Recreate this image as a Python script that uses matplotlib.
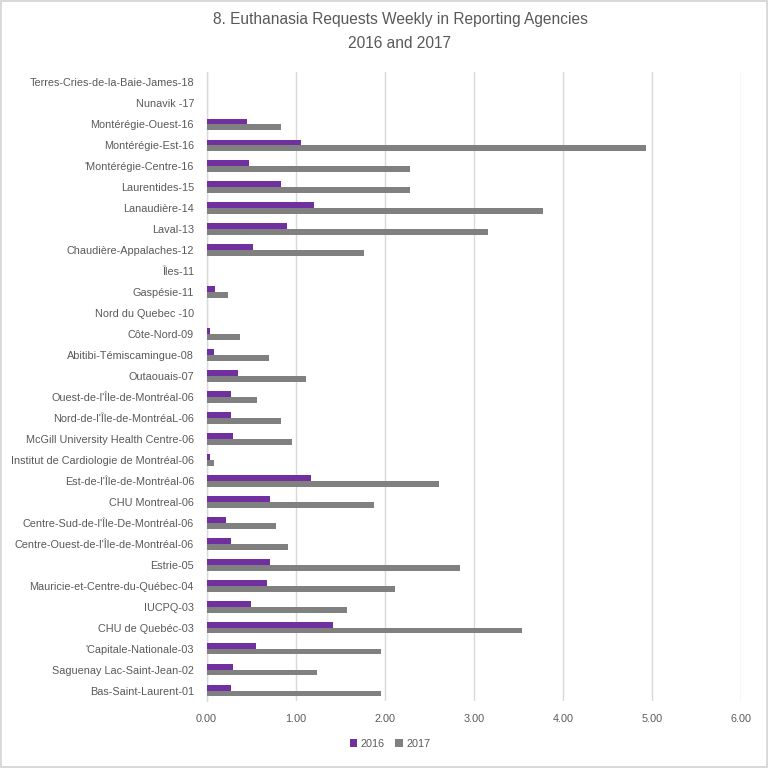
import matplotlib
matplotlib.use("Agg")
import matplotlib.pyplot as plt
import numpy as np

plt.rcParams['font.family'] = ['Liberation Sans', 'DejaVu Sans']

# categories from bottom to top
categories = [
    "Bas-Saint-Laurent-01",
    "Saguenay Lac-Saint-Jean-02",
    "'Capitale-Nationale-03",
    "CHU de Quebéc-03",
    "IUCPQ-03",
    "Mauricie-et-Centre-du-Québec-04",
    "Estrie-05",
    "Centre-Ouest-de-l'Île-de-Montréal-06",
    "Centre-Sud-de-l'Île-De-Montréal-06",
    "CHU Montreal-06",
    "Est-de-l'Île-de-Montréal-06",
    "Institut de Cardiologie de Montréal-06",
    "McGill University Health Centre-06",
    "Nord-de-l'Île-de-MontréaL-06",
    "Ouest-de-l'Île-de-Montréal-06",
    "Outaouais-07",
    "Abitibi-Témiscamingue-08",
    "Côte-Nord-09",
    "Nord du Quebec -10",
    "Gaspésie-11",
    "Îles-11",
    "Chaudière-Appalaches-12",
    "Laval-13",
    "Lanaudière-14",
    "Laurentides-15",
    "'Montérégie-Centre-16",
    "Montérégie-Est-16",
    "Montérégie-Ouest-16",
    "Nunavik -17",
    "Terres-Cries-de-la-Baie-James-18",
]

values_2016 = [0.27, 0.30, 0.56, 1.42, 0.50, 0.68, 0.71, 0.27, 0.22, 0.71,
               1.17, 0.04, 0.30, 0.27, 0.27, 0.35, 0.08, 0.04, 0.0, 0.10,
               0.0, 0.52, 0.90, 1.21, 0.84, 0.48, 1.06, 0.46, 0.0, 0.0]
values_2017 = [1.96, 1.24, 1.96, 3.54, 1.58, 2.12, 2.85, 0.92, 0.78, 1.88,
               2.61, 0.08, 0.96, 0.84, 0.57, 1.12, 0.70, 0.38, 0.0, 0.24,
               0.0, 1.77, 3.16, 3.78, 2.28, 2.28, 4.93, 0.84, 0.0, 0.0]

series_names = ["2016", "2017"]
x_ticks = [0, 1, 2, 3, 4, 5, 6]

c2016 = "#7030A0"
c2017 = "#808080"
text_color = "#595959"

fig = plt.figure(figsize=(7.68, 7.68), dpi=100)
fig.patch.set_facecolor("white")
fig.patch.set_edgecolor("#D9D9D9")
fig.patch.set_linewidth(1.5)

ax = fig.add_axes([206.5 / 768, 67 / 768, (741 - 206.5) / 768, (696 - 67) / 768])

y = np.arange(len(categories))
h = 0.28
ax.barh(y + h / 2, values_2016, height=h, color=c2016, label=series_names[0], zorder=3)
ax.barh(y - h / 2, values_2017, height=h, color=c2017, label=series_names[1], zorder=3)

ax.set_xlim(0, 6)
ax.set_ylim(-0.5, len(categories) - 0.5)
ax.set_xticks(x_ticks)
ax.set_xticklabels([f"{v:.2f}" for v in x_ticks])
ax.set_yticks(y)
ax.set_yticklabels(categories)
ax.tick_params(axis='both', length=0, colors=text_color, labelsize=7.8)
ax.tick_params(axis='x', pad=9)
ax.tick_params(axis='y', pad=9)

ax.grid(axis='x', color="#D9D9D9", linewidth=1, zorder=0)
for s in ["top", "right", "bottom"]:
    ax.spines[s].set_visible(False)
ax.spines["left"].set_color("#D9D9D9")
ax.spines["left"].set_linewidth(1)

fig.text(400 / 768, 1 - 12 / 768,
         "8. Euthanasia Requests Weekly in Reporting Agencies\n2016 and 2017",
         ha="center", va="top", fontsize=11.2, color=text_color, linespacing=1.75)

leg = fig.legend(loc="center", bbox_to_anchor=(390 / 768, 1 - 744 / 768), ncol=2,
                 frameon=False, fontsize=7.8, handlelength=0.7, handleheight=0.7,
                 handletextpad=0.3, columnspacing=1.0)
for t in leg.get_texts():
    t.set_color(text_color)

fig.savefig("out.png", dpi=100, facecolor=fig.get_facecolor(), edgecolor=fig.get_edgecolor())
